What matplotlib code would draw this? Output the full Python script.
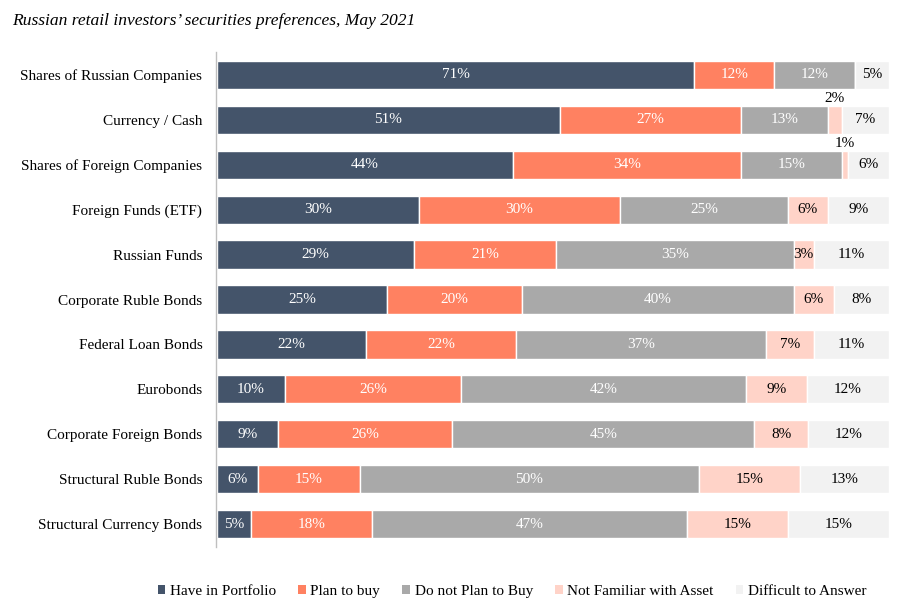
import matplotlib
matplotlib.use("Agg")
import matplotlib.pyplot as plt
from matplotlib.patches import Patch
import numpy as np

plt.rcParams['font.family'] = ['Liberation Serif', 'DejaVu Serif']

categories = [
    "Shares of Russian Companies",
    "Currency / Cash",
    "Shares of Foreign Companies",
    "Foreign Funds (ETF)",
    "Russian Funds",
    "Corporate Ruble Bonds",
    "Federal Loan Bonds",
    "Eurobonds",
    "Corporate Foreign Bonds",
    "Structural Ruble Bonds",
    "Structural Currency Bonds",
]
series_names = ["Have in Portfolio", "Plan to buy", "Do not Plan to Buy",
                "Not Familiar with Asset", "Difficult to Answer"]
have_in_portfolio = [71, 51, 44, 30, 29, 25, 22, 10, 9, 6, 5]
plan_to_buy = [12, 27, 34, 30, 21, 20, 22, 26, 26, 15, 18]
do_not_plan = [12, 13, 15, 25, 35, 40, 37, 42, 45, 50, 47]
not_familiar = [0, 2, 1, 6, 3, 6, 7, 9, 8, 15, 15]
difficult = [5, 7, 6, 9, 11, 8, 11, 12, 12, 13, 15]

colors = ["#44546A", "#FF8161", "#A9A9A9", "#FFD3C8", "#F2F2F2"]
text_colors = ["white", "white", "white", "black", "black"]

data = np.array([have_in_portfolio, plan_to_buy, do_not_plan, not_familiar, difficult], dtype=float)
totals = data.sum(axis=0)
shares = data / totals * 100.0

fig = plt.figure(figsize=(9.16, 6.10), dpi=100)
ax = fig.add_axes([0.236, 0.104, 0.734, 0.810])

y = np.arange(len(categories))
left = np.zeros(len(categories))
for i, name in enumerate(series_names):
    ax.barh(y, shares[i], left=left, height=0.63, color=colors[i],
            edgecolor="white", linewidth=1.0, label=name)
    for j in range(len(categories)):
        v = data[i, j]
        if v <= 0:
            continue
        cx = left[j] + shares[i, j] / 2
        if v < 2.5:
            ax.text(cx, y[j] - 0.33, f"{v:.0f}%", ha="center", va="bottom",
                    color="black", fontsize=11)
        else:
            ax.text(cx, y[j], f"{v:.0f}%", ha="center", va="center",
                    color=text_colors[i], fontsize=11)
    left += shares[i]

ax.set_xlim(-0.15, 100)
ax.set_ylim(len(categories) - 0.5, -0.5)
ax.set_yticks(y)
ax.set_yticklabels(categories, fontsize=11)
ax.set_xticks([])
ax.tick_params(axis="y", length=0, pad=10)
for s in ["top", "right", "bottom"]:
    ax.spines[s].set_visible(False)
ax.spines["left"].set_color("#BFBFBF")
ax.spines["left"].set_linewidth(1.0)

fig.text(0.013, 0.965, "Russian retail investors\u2019 securities preferences, May 2021",
         fontsize=12.6, style="italic", ha="left", va="center")

handles = [Patch(facecolor=c, edgecolor="none") for c in colors]
fig.legend(handles, series_names, loc="center", bbox_to_anchor=(0.559, 0.03),
           ncol=5, frameon=False, fontsize=11, handlelength=0.5, handleheight=0.5,
           handletextpad=0.3, columnspacing=1.45)

fig.savefig("out.png", dpi=100)
